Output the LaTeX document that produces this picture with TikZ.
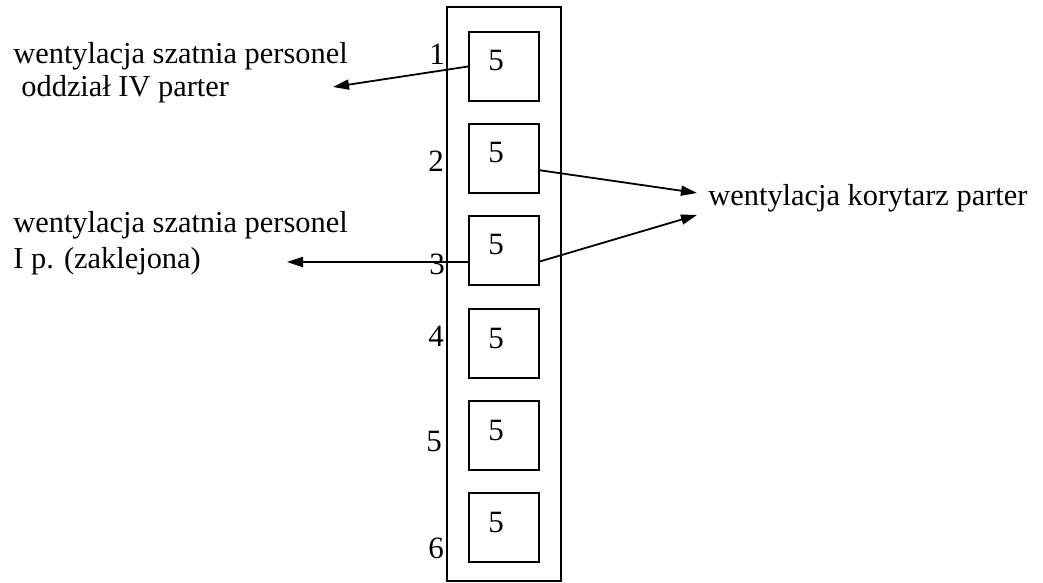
\documentclass[tikz,border=0pt]{standalone}
\usepackage{fontspec}
\setmainfont{Liberation Serif}
\usetikzlibrary{arrows.meta}
\begin{document}
\begin{tikzpicture}[x=0.5pt,y=-0.5pt,
  txt/.style={inner sep=0pt,anchor=base west,font=\fontsize{15.2}{18}\selectfont},
  num/.style={inner sep=0pt,anchor=center,font=\fontsize{15.5}{18}\selectfont},
  cell/.style={draw,line width=1pt,minimum width=35pt,minimum height=34.5pt,inner sep=0pt,anchor=north west},
  arr/.style={line width=0.9pt,-{Triangle[length=8pt,width=5pt]}}]
\useasboundingbox (0,0) rectangle (1043,583);
% outer frame
\draw[line width=1pt] (447,7) rectangle (561,581);
% cells
\foreach \i/\y in {1/31,2/123,3/215,4/308,5/400,6/492}{
  \node[cell] (b\i) at (468,\y) {};
  \node[num] (f\i) at (496,\y+30) {5};
}
% row numbers
\node[num] (n1) at (437,54) {1};
\node[num] (n2) at (436,161) {2};
\node[num] (n3) at (437,264) {3};
\node[num] (n4) at (436,336) {4};
\node[num] (n5) at (434,441) {5};
\node[num] (n6) at (436,548) {6};
% labels
\node[txt] (l1) at (13,64) {wentylacja szatnia personel};
\node[txt] (l1b) at (21,97) {oddział IV parter};
\node[txt] (l3) at (13,232) {wentylacja szatnia personel};
\node[txt] (l3b) at (13,268) {I p. (zaklejona)};
\node[txt] (r1) at (708,205) {wentylacja korytarz parter};
% arrow tips
\coordinate (t1) at (333,87);
\coordinate (t3) at (287,262);
\coordinate (t2) at (697,193);
\coordinate (t4) at (697,215);
\coordinate (s3l) at (468,262);
\coordinate (s2r) at (538,170);
\coordinate (s3r) at (538,262);
% connectors
\draw[arr] (b1.west) -- (t1);
\draw[arr] (s3l) -- (t3);
\draw[arr] (s2r) -- (t2);
\draw[arr] (s3r) -- (t4);
\end{tikzpicture}
\end{document}
